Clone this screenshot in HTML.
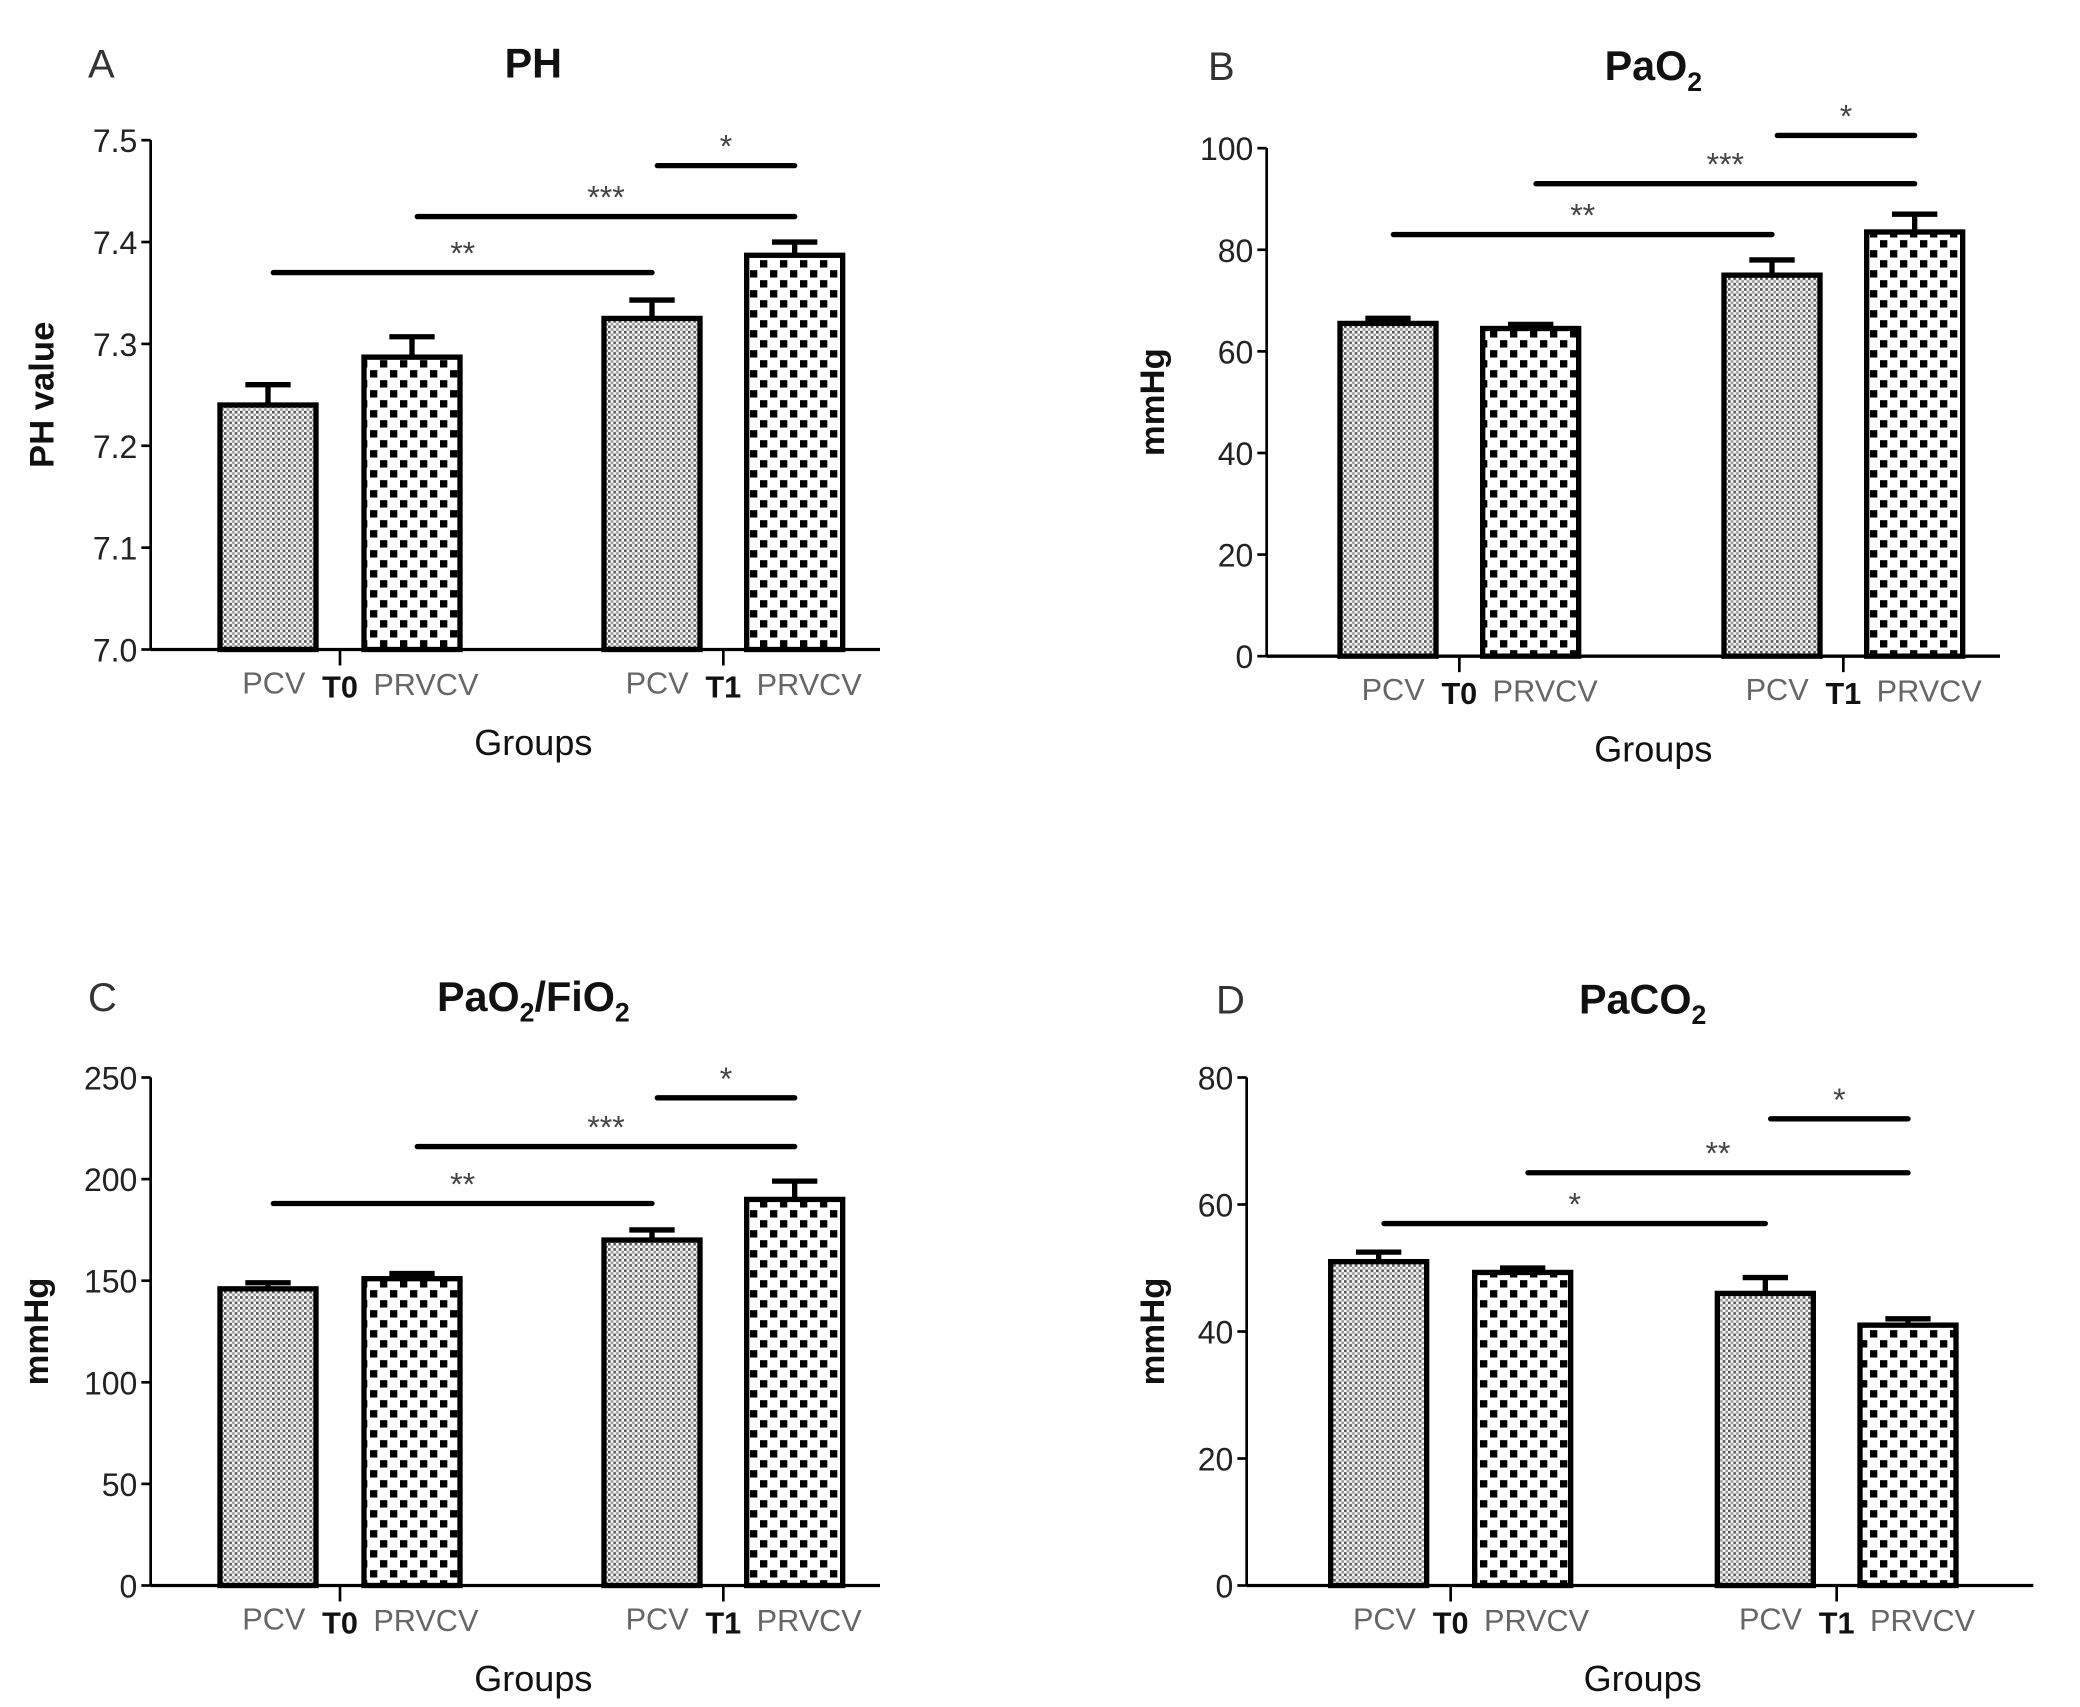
<!DOCTYPE html>
<html><head><meta charset="utf-8"><style>
html,body{margin:0;padding:0;background:#fff}
svg{display:block}
text{font-family:"Liberation Sans",sans-serif}
</style></head><body>
<svg id="fig" width="2080" height="1707" viewBox="0 0 1560 1280" xmlns="http://www.w3.org/2000/svg">
<defs>
<pattern id="dots" patternUnits="userSpaceOnUse" width="4" height="4">
<rect width="4" height="4" fill="#fff"/><rect x="0" y="0" width="2" height="2" fill="#555"/><rect x="2" y="2" width="2" height="2" fill="#999"/>
</pattern>
<pattern id="check" patternUnits="userSpaceOnUse" width="15" height="15">
<rect width="15" height="15" fill="#fff"/><rect x="0" y="0" width="5.5" height="5.5" fill="#000"/><rect x="7.5" y="7.5" width="5.5" height="5.5" fill="#000"/>
</pattern>
</defs>
</svg>
<script>
const groupLabels = ["T0","T1"];
const seriesNames = ["PCV","PRVCV"];
const phMeans = [7.24, 7.287, 7.325, 7.387];
const phErr = [7.26, 7.307, 7.343, 7.40];
const phTicks = [7.0,7.1,7.2,7.3,7.4,7.5];
const phTickText = ["7.0","7.1","7.2","7.3","7.4","7.5"];
const pao2Means = [65.5, 64.5, 75, 83.5];
const pao2Err = [66.5, 65.3, 78, 87];
const pao2Ticks = [0,20,40,60,80,100];
const pfMeans = [146, 151, 170, 190];
const pfErr = [149, 153.5, 175, 199];
const pfTicks = [0,50,100,150,200,250];
const pacoMeans = [51, 49.3, 46, 41];
const pacoErr = [52.5, 50, 48.5, 42];
const pacoTicks = [0,20,40,60,80];
const phSig = [["**",0,2,7.37],["***",1,3,7.425],["*",2,3,7.475]];
const pao2Sig = [["**",0,2,83],["***",1,3,93],["*",2,3,102.5]];
const pfSig = [["**",0,2,188],["***",1,3,216],["*",2,3,240]];
const pacoSig = [["*",0,2,57],["**",1,3,65],["*",2,3,73.5]];

const NS="http://www.w3.org/2000/svg";
const svg=document.getElementById('fig');
function mk(tag,attrs,parent,txt){const e=document.createElementNS(NS,tag);for(const k in attrs)e.setAttribute(k,attrs[k]);if(txt!==undefined)e.textContent=txt;(parent||svg).appendChild(e);return e;}

function panel(p){
  const g=mk('g',{});
  
  
  const y=v=>p.y0+(v-p.min)/(p.max-p.min)*(p.y1-p.y0);
  const lt=mk('text',{x:p.letterX,y:p.titleY,'font-size':30,fill:'#333'},g,p.letter);
  
  
  const tt=mk('text',{x:p.titleX,y:p.titleY,'font-size':31,'font-weight':'bold','text-anchor':'middle',fill:'#111'},g);
  
  
  p.title.forEach(s=>{const ts=mk('tspan',s[1]?{'font-size':20,dy:8}:{dy:s[2]||0},tt,s[0]);});
  const ya=mk('line',{x1:p.ax,y1:p.y1,x2:p.ax,y2:p.y0,stroke:'#000','stroke-width':2},g);
  
  
  const xa=mk('line',{x1:p.ax,y1:p.y0,x2:p.axEnd,y2:p.y0,stroke:'#000','stroke-width':2.5},g);
  
  
  p.ticks.forEach((t,i)=>{
    mk('line',{x1:p.ax-7,x2:p.ax,y1:y(t),y2:y(t),stroke:'#000','stroke-width':2},g);
    const tl=mk('text',{x:p.ax-10,y:y(t)+9,'font-size':24,'text-anchor':'end',fill:'#222'},g,p.tickText?p.tickText[i]:String(t));
    
    
  });
  const yl=mk('text',{transform:`translate(${p.ylabX},${(p.y0+p.y1)/2}) rotate(-90)`,'font-size':26,'font-weight':'bold','text-anchor':'middle',fill:'#111'},g,p.ylab);
  
  
  p.means.forEach((m,i)=>{
    const x=p.bx[i], w=72;
    const eb=mk('path',{d:`M${x+w/2} ${y(m)} V${y(p.err[i])} M${x+w/2-17} ${y(p.err[i])} H${x+w/2+17}`,stroke:'#000','stroke-width':4,fill:'none'},g);
    
    
    const r=mk('rect',{x:x,y:y(m),width:w,height:p.y0-y(m),fill:i%2?'url(#check)':'url(#dots)',stroke:'#000','stroke-width':4},g);
    
    
  });
  [0,1].forEach(gi=>{
    const cx=(p.bx[gi*2]+72+p.bx[gi*2+1])/2;
    mk('line',{x1:cx,x2:cx,y1:p.y0,y2:p.y0+12,stroke:'#000','stroke-width':2},g);
    const gl=mk('text',{x:cx,y:p.y0+36,'font-size':23,'font-weight':'bold','text-anchor':'middle',fill:'#111'},g,groupLabels[gi]);
    
    
    const l1=mk('text',{x:cx-26,y:p.y0+33,'font-size':23,'text-anchor':'end',fill:'#666'},g,seriesNames[0]);
    
    
    const l2=mk('text',{x:cx+25,y:p.y0+34,'font-size':23,'text-anchor':'start',fill:'#666'},g,seriesNames[1]);
    
    
  });
  const xt=mk('text',{x:p.titleX,y:p.y0+79,'font-size':27,'text-anchor':'middle',fill:'#111'},g,'Groups');
  
  
  p.sig.forEach(s=>{
    const x1=p.bx[s[1]]+40, x2=p.bx[s[2]]+36, yy=y(s[3]);
    const sl=mk('line',{x1:x1,x2:x2,y1:yy,y2:yy,stroke:'#000','stroke-width':4,'stroke-linecap':'round'},g);
    
    
    const st=mk('text',{x:(x1+x2)/2,y:yy-6,'font-size':24,'text-anchor':'middle',fill:'#444'},g,s[0]);
    
    
  });
}
panel({id:'ph',letter:'A',letterX:66,titleX:400,titleY:58,title:[['PH']],ax:113,axEnd:660,y0:487,y1:105,min:7.0,max:7.5,ticks:phTicks,tickText:phTickText,ylab:'PH value',ylabX:40,bx:[165,273,453,560],means:phMeans,err:phErr,sig:phSig});
panel({id:'pao2',letter:'B',letterX:906,titleX:1240,titleY:60,title:[['PaO'],['2',1],['',0,-8]],ax:950,axEnd:1500,y0:492,y1:111,min:0,max:100,ticks:pao2Ticks,ylab:'mmHg',ylabX:873,bx:[1005,1112,1293,1400],means:pao2Means,err:pao2Err,sig:pao2Sig});
panel({id:'pf',letter:'C',letterX:66,titleX:400,titleY:758,title:[['PaO'],['2',1],['/FiO',0,-8],['2',1]],ax:113,axEnd:660,y0:1189,y1:808,min:0,max:250,ticks:pfTicks,ylab:'mmHg',ylabX:36,bx:[165,273,453,560],means:pfMeans,err:pfErr,sig:pfSig});
panel({id:'paco2',letter:'D',letterX:912,titleX:1232,titleY:760,title:[['PaCO'],['2',1]],ax:935,axEnd:1525,y0:1189,y1:808,min:0,max:80,ticks:pacoTicks,ylab:'mmHg',ylabX:873,bx:[998,1106,1288,1395],means:pacoMeans,err:pacoErr,sig:pacoSig});
</script>
</body></html>
